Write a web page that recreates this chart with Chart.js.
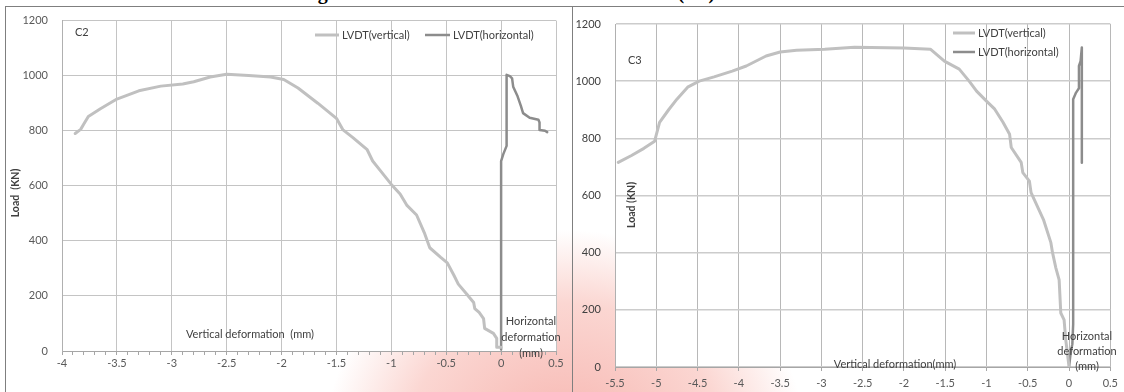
<!DOCTYPE html>
<html>
<head>
<meta charset="utf-8">
<script src="https://cdn.jsdelivr.net/npm/chart.js@4.4.1/dist/chart.umd.min.js"></script>
<style>
  html,body{margin:0;padding:0;background:#fff;}
  body{width:1124px;height:392px;position:relative;overflow:hidden;font-family:Lato, 'Open Sans', sans-serif;}
  #wm{position:absolute;left:0;top:0;width:1124px;height:392px;
      background:radial-gradient(ellipse 240px 210px at 565px 440px, rgba(240,120,110,0.55) 0%, rgba(246,165,155,0.45) 65%, rgba(255,255,255,0) 100%);}
  #title{position:absolute;left:300px;top:-18px;font:bold 20px 'Liberation Serif','Times New Roman',serif;line-height:20px;white-space:nowrap;color:#000;}
  .frame{position:absolute;border:1px solid #7f7f7f;}
  canvas{position:absolute;top:0;}
</style>
</head>
<body>
<div id="wm"></div>
<div id="title">Fig. 4: Load versus deformation for column (C3)</div>
<div class="frame" style="left:5px;top:6px;width:566px;height:400px;"></div>
<div class="frame" style="left:572px;top:6px;width:560px;height:400px;"></div>
<canvas id="c2" width="572" height="392" style="left:0px;"></canvas>
<canvas id="c3" width="552" height="392" style="left:572px;"></canvas>
<script>
// ---- Data: C2 ----
const c2VertDef  = [-3.88,-3.83,-3.8,-3.76,-3.65,-3.5,-3.3,-3.1,-2.9,-2.8,-2.65,-2.5,-2.3,-2.1,-1.98,-1.85,-1.67,-1.5,-1.44,-1.35,-1.22,-1.17,-1.1,-1.0,-0.92,-0.86,-0.77,-0.7,-0.65,-0.55,-0.49,-0.43,-0.39,-0.31,-0.29,-0.25,-0.24,-0.2,-0.16,-0.15,-0.07,-0.04,-0.04,0];
const c2VertLoad = [790,805,825,852,880,915,945,962,970,978,995,1005,1001,995,986,955,900,845,803,775,731,690,655,605,570,530,494,430,375,340,320,275,243,205,195,176,154,140,118,82,64,46,14,14];
const c2HorDef   = [0,0,0,0.02,0.05,0.05,0.08,0.1,0.11,0.15,0.18,0.2,0.26,0.34,0.35,0.35,0.4,0.42];
const c2HorLoad  = [5,300,690,715,745,1003,998,990,960,925,890,864,847,840,830,803,800,795];
// ---- Data: C3 ----
const c3VertDef  = [-5.46,-5.3,-5.15,-5.02,-4.96,-4.85,-4.75,-4.62,-4.48,-4.3,-4.08,-3.91,-3.67,-3.5,-3.3,-2.96,-2.6,-2.0,-1.68,-1.51,-1.33,-1.21,-1.12,-1.0,-0.9,-0.8,-0.72,-0.7,-0.58,-0.56,-0.48,-0.46,-0.31,-0.22,-0.2,-0.16,-0.12,-0.1,-0.06,-0.04,-0.02,0];
const c3VertLoad = [716,740,765,790,856,900,937,979,1000,1015,1035,1053,1088,1102,1108,1112,1119,1116,1112,1070,1042,1000,965,930,902,856,814,768,716,680,650,610,516,435,400,347,305,189,165,95,49,0];
const c3HorDef   = [0.0,0.02,0.04,0.05,0.05,0.085,0.12,0.12,0.14,0.155,0.155];
const c3HorLoad  = [0,50,80,150,937,960,975,1053,1070,1118,715];
// ---- Tick labels ----
const c2XTicks = [-4,-3.5,-3,-2.5,-2,-1.5,-1,-0.5,0,0.5];
const c3XTicks = [-5.5,-5,-4.5,-4,-3.5,-3,-2.5,-2,-1.5,-1,-0.5,0,0.5];
const yTicks   = [0,200,400,600,800,1000,1200];
const seriesNames = ['LVDT(vertical)','LVDT(horizontal)'];

const VCOL = '#c0c0c0', HCOL = '#8c8c8c';
const FONT = 'Lato, "Open Sans", sans-serif';
const zip = (a,b) => a.map((v,i)=>({x:v,y:b[i]}));
const isMajor = v => Math.abs(v*2 - Math.round(v*2)) < 1e-6;

function makeDatasets(vd, vl, hd, hl){
  return [
    {label:seriesNames[0], data:zip(vd,vl), showLine:true, borderColor:VCOL, backgroundColor:VCOL, borderWidth:3, pointRadius:0, tension:0, borderJoinStyle:'round', borderCapStyle:'round'},
    {label:seriesNames[1], data:zip(hd,hl), showLine:true, borderColor:HCOL, backgroundColor:HCOL, borderWidth:2.5, pointRadius:0, tension:0, borderJoinStyle:'round', borderCapStyle:'round'}
  ];
}

const whiteArea = {
  id:'whiteArea',
  beforeDraw(chart){
    const {ctx, chartArea:a} = chart;
    ctx.save(); ctx.fillStyle='#fff'; ctx.fillRect(a.left,a.top,a.right-a.left,a.bottom-a.top); ctx.restore();
  }
};

function textPlugin(cfg){
  return {
    id:'texts',
    afterDraw(chart){
      const ctx = chart.ctx;
      ctx.save();
      ctx.fillStyle = '#404040';
      ctx.font = '11px ' + FONT;
      ctx.textBaseline = 'middle';
      ctx.textAlign = 'left';
      ctx.fillText(cfg.id, cfg.idPos[0], cfg.idPos[1]);
      cfg.legend.forEach((L,i)=>{
        ctx.strokeStyle = i===0?VCOL:HCOL; ctx.lineWidth = i===0?3:2.5;
        ctx.beginPath(); ctx.moveTo(L[0],L[2]); ctx.lineTo(L[1],L[2]); ctx.stroke();
        ctx.fillStyle = '#404040';
        ctx.fillText(seriesNames[i], L[1]+3, L[2]);
      });
      ctx.textAlign = 'center';
      ctx.fillText(cfg.vTitle[0], cfg.vTitle[1], cfg.vTitle[2]);
      ['Horizontal','deformation','(mm)'].forEach((t,i)=>ctx.fillText(t, cfg.hTitle[0], cfg.hTitle[1][i]));
      ctx.save();
      ctx.translate(cfg.yTitle[1], cfg.yTitle[2]); ctx.rotate(-Math.PI/2);
      ctx.font = 'bold 10.5px ' + FONT; ctx.fillStyle='#404040';
      ctx.fillText(cfg.yTitle[0], 0, 0);
      ctx.restore();
      ctx.restore();
    }
  };
}

function fmt(v){ return (Math.round(v*10)/10).toString(); }

// ---------- C2 chart ----------
new Chart(document.getElementById('c2'), {
  type:'scatter',
  data:{datasets:makeDatasets(c2VertDef,c2VertLoad,c2HorDef,c2HorLoad)},
  options:{
    responsive:false, animation:false,
    layout:{padding:{top:16,right:16,left:0,bottom:0}},
    plugins:{legend:{display:false}, tooltip:{enabled:false}},
    scales:{
      x:{type:'linear', min:c2XTicks[0], max:c2XTicks[c2XTicks.length-1],
         afterBuildTicks(axis){
           const t=[]; const n=Math.round((c2XTicks[c2XTicks.length-1]-c2XTicks[0])*10);
           for(let i=0;i<=n;i++) t.push({value: Math.round((c2XTicks[0]+i*0.1)*10)/10});
           axis.ticks=t;
         },
         afterFit(s){ s.height = 41; },
         grid:{color:c=> (c.tick && isMajor(c.tick.value)) ? '#c4c4c4' : 'rgba(0,0,0,0)', tickColor:'#a6a6a6', tickLength:4, lineWidth:1},
         border:{color:'#a6a6a6'},
         ticks:{autoSkip:false, maxRotation:0, padding:2, color:'#595959', font:{family:FONT,size:11},
                callback:v=> isMajor(v) ? fmt(v) : ''}
      },
      y:{type:'linear', min:0, max:1200,
         afterBuildTicks(axis){ axis.ticks = yTicks.map(v=>({value:v})); },
         afterFit(s){ s.width = 62; },
         grid:{color:'#c4c4c4', tickLength:0, lineWidth:1},
         border:{color:'#b0b0b0'},
         ticks:{padding:14, color:'#595959', font:{family:FONT,size:11}, callback:v=>String(v)}
      }
    }
  },
  plugins:[whiteArea, textPlugin({
    id:'C2', idPos:[75,32],
    legend:[[315,339,35],[425,450,35]],
    vTitle:['Vertical deformation  (mm)',250,334],
    hTitle:[531,[321,337,353]],
    yTitle:['Load  (KN)',16,193]
  })]
});

// ---------- C3 chart ----------
new Chart(document.getElementById('c3'), {
  type:'scatter',
  data:{datasets:makeDatasets(c3VertDef,c3VertLoad,c3HorDef,c3HorLoad)},
  options:{
    responsive:false, animation:false,
    layout:{padding:{top:24,right:9,left:0,bottom:0}},
    plugins:{legend:{display:false}, tooltip:{enabled:false}},
    scales:{
      x:{type:'linear', min:c3XTicks[0], max:c3XTicks[c3XTicks.length-1],
         afterBuildTicks(axis){ axis.ticks = c3XTicks.map(v=>({value:v})); },
         afterFit(s){ s.height = 25; },
         grid:{color:'#b8b8b8', tickColor:'#a6a6a6', tickLength:4, lineWidth:1},
         border:{color:'#a6a6a6'},
         ticks:{autoSkip:false, maxRotation:0, padding:6, color:'#595959', font:{family:FONT,size:11},
                callback:v=>fmt(v)}
      },
      y:{type:'linear', min:0, max:1200,
         afterBuildTicks(axis){ axis.ticks = yTicks.map(v=>({value:v})); },
         afterFit(s){ s.width = 43; },
         grid:{color:'#cccccc', tickLength:0, lineWidth:1.5},
         border:{color:'#b0b0b0'},
         ticks:{padding:14, color:'#404040', font:{family:FONT,size:11}, callback:v=>String(v)}
      }
    }
  },
  plugins:[whiteArea, textPlugin({
    id:'C3', idPos:[56,60],
    legend:[[381,403,33],[381,403,52]],
    vTitle:['Vertical deformation(mm)',323,364],
    hTitle:[515,[336,351,366]],
    yTitle:['Load (KN)',60,205]
  })]
});
</script>
</body>
</html>
